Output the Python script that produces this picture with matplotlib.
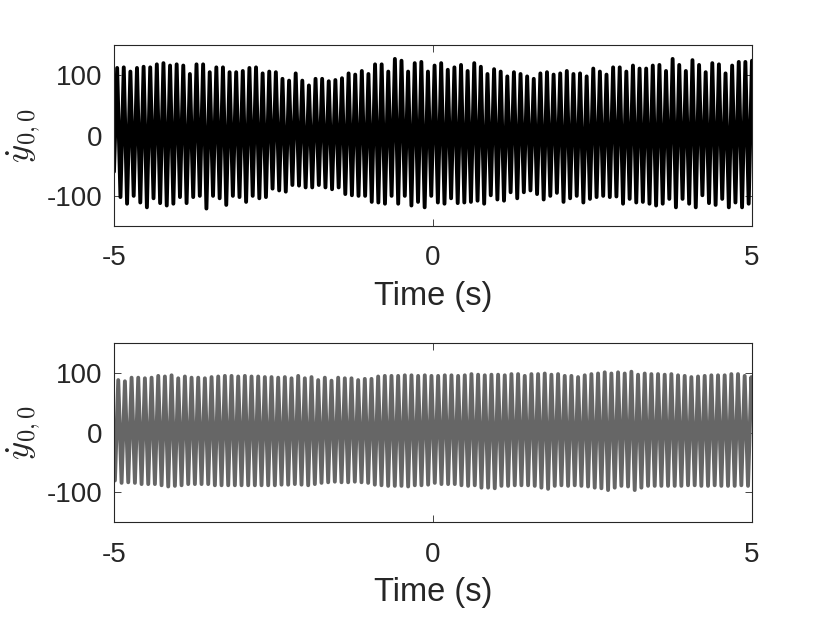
import numpy as np
import matplotlib
matplotlib.use("Agg")
import matplotlib.pyplot as plt

plt.rcParams['font.family'] = ['Liberation Sans', 'DejaVu Sans']
plt.rcParams['mathtext.fontset'] = 'cm'
plt.rcParams['axes.unicode_minus'] = False

# top trace (black): start value, then alternating peak / trough values
top_start = -60
top_peaks = [112, 113, 106, 112, 114, 113, 118, 120, 116, 118, 116, 102, 118, 118, 105, 113, 113, 105,
             105, 107, 112, 113, 103, 106, 105, 94, 91, 103, 91, 83, 94, 94, 90, 92, 95, 103, 101, 107,
             102, 118, 118, 106, 127, 124, 106, 120, 122, 106, 116, 120,
             109, 113, 117, 107, 120, 114, 102, 110, 106, 98, 105, 102, 98, 94, 103, 105, 101, 103, 107,
             102, 103, 98, 111, 106, 101, 113, 113, 106, 116, 111, 111, 116, 117, 107, 127, 117, 107,
             125, 117, 105, 120, 118, 103, 116, 122, 122, 124]
top_troughs = [-102, -113, -100, -111, -119, -104, -112, -116, -113, -102, -112, -102, -100, -121, -100,
               -104, -115, -100, -102, -110, -100, -104, -102, -88, -91, -93, -82, -83, -86, -86, -82,
               -86, -89, -86, -97, -99, -100, -100, -110, -111, -113, -100, -113, -100, -116, -110,
               -119, -100, -111,
               -113, -104, -112, -111, -110, -108, -113, -99, -106, -108, -94, -104, -94, -91, -97,
               -106, -100, -95, -110, -104, -100, -111, -105, -102, -100, -102, -101, -113, -105, -111,
               -110, -113, -116, -113, -105, -119, -105, -113, -119, -99, -112, -115, -105, -119, -111,
               -119, -113]

# bottom trace (gray): alternating trough / peak values, then end value
bot_troughs = [-80, -84, -83, -84, -86, -86, -86, -88, -90, -89, -88, -86, -86, -86, -86, -88, -88,
               -88, -88, -88, -88, -88, -88, -88, -88, -87, -87, -86, -87, -88, -86, -84, -83, -82,
               -83, -83, -82, -83, -84, -87, -88, -89, -89, -89, -90, -88, -88, -87,
               -84, -86, -86, -86, -88, -89, -88, -92, -92, -93, -89, -89, -88, -88, -88, -89, -92,
               -94, -89, -88, -89, -88, -89, -90, -92, -93, -96, -92, -89, -90, -96, -92, -89, -89,
               -89, -89, -89, -89, -88, -88, -89, -89, -88, -89, -89, -89, -88, -89]
bot_peaks = [88, 86, 92, 92, 91, 92, 95, 94, 96, 91, 94, 92, 92, 91, 93, 94, 95, 95, 94, 95, 94, 94,
             93, 93, 92, 93, 91, 95, 91, 93, 88, 92, 87, 92, 91, 91, 88, 90, 90, 94, 95, 95, 95, 96,
             96, 95, 96, 95,
             95, 96, 96, 95, 96, 98, 97, 96, 97, 97, 96, 98, 98, 95, 98, 98, 99, 97, 98, 95, 95, 93,
             96, 98, 99, 101, 99, 101, 99, 102, 97, 99, 98, 98, 97, 98, 96, 95, 93, 94, 95, 96, 96,
             96, 98, 98, 95, 93]
bot_end = 49

t_range = (-5, 5)
y_range = (-150, 150)
y_ticks = [-100, 0, 100]
x_ticks = [-5, 0, 5]
ylabel = r'$\dot{y}_{0,0}$'
xlabel = 'Time (s)'


def interleave(a, b):
    out = []
    for i in range(max(len(a), len(b))):
        if i < len(a):
            out.append(a[i])
        if i < len(b):
            out.append(b[i])
    return out


top_vals = [top_start] + interleave(top_peaks, top_troughs)
top_t = np.concatenate([[t_range[0]], np.linspace(-4.95, 5.0, len(top_vals) - 1)])

bot_vals = interleave(bot_troughs, bot_peaks) + [bot_end]
bot_t = np.concatenate([np.linspace(-4.985, 4.99, len(bot_vals) - 1), [t_range[1]]])

fig = plt.figure(figsize=(8.3, 6.23), dpi=100)
ax1 = fig.add_axes([0.1373, 0.6372, 0.7687, 0.2905])
ax2 = fig.add_axes([0.1373, 0.1616, 0.7687, 0.2878])

for ax, t, v, col in [(ax1, top_t, top_vals, 'black'), (ax2, bot_t, bot_vals, '#666666')]:
    ax.plot(t, v, color=col, lw=2.8, solid_joinstyle='round', solid_capstyle='round')
    ax.set_xlim(*t_range)
    ax.set_ylim(*y_range)
    ax.set_xticks(x_ticks)
    ax.set_yticks(y_ticks)
    ax.tick_params(direction='in', length=5, width=0.6, colors='#262626', labelsize=20,
                   top=True, right=True)
    ax.tick_params(axis='y', pad=8)
    ax.tick_params(axis='x', pad=14)
    for s in ax.spines.values():
        s.set_linewidth(0.8)
        s.set_color('#262626')
    ax.set_xlabel(xlabel, fontsize=23.5, color='#262626', labelpad=7)
    ax.set_ylabel(ylabel, fontsize=25, color='#262626', labelpad=4)

fig.savefig('out.png', dpi=100)
